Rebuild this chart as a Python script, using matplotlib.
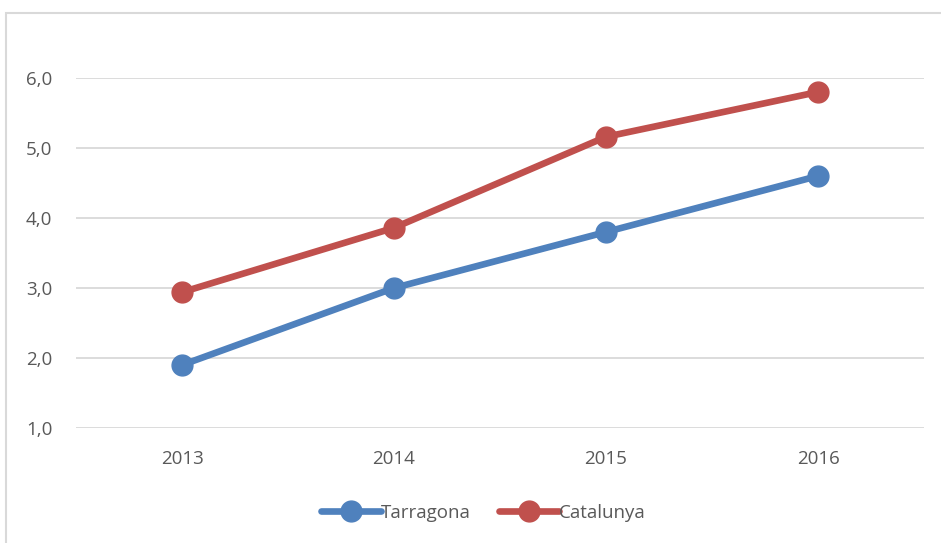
import matplotlib.pyplot as plt
from matplotlib.patches import Rectangle
from matplotlib.ticker import FuncFormatter

years = ['2013', '2014', '2015', '2016']
tarragona = [1.9, 3.0, 3.8, 4.6]
catalunya = [2.94, 3.86, 5.16, 5.8]
y_ticks = [1, 2, 3, 4, 5, 6]

plt.rcParams['font.family'] = ['Open Sans', 'DejaVu Sans']

fig = plt.figure(figsize=(9.41, 5.43), dpi=100)
ax = fig.add_axes([76/941, 1 - 428/543, 848/941, 350/543])

# chart frame (runs off the right and bottom edges)
fig.patches.append(Rectangle((6/941, -0.05), 1.0, 1 - 13/543 + 0.05,
                             transform=fig.transFigure, fill=False,
                             edgecolor='#D9D9D9', linewidth=1.5))

x = range(len(years))
ax.plot(x, tarragona, color='#4F81BD', lw=4.8, marker='o', ms=15,
        solid_capstyle='round', label='Tarragona')
ax.plot(x, catalunya, color='#C0504D', lw=4.8, marker='o', ms=15,
        solid_capstyle='round', label='Catalunya')

ax.set_xlim(-0.5, 3.5)
ax.set_ylim(1, 6)
ax.set_xticks(list(x))
ax.set_xticklabels(years)
ax.set_yticks(y_ticks)
ax.yaxis.set_major_formatter(FuncFormatter(lambda v, p: f'{v:.1f}'.replace('.', ',')))
ax.grid(axis='y', color='#D9D9D9', lw=1.3)
ax.set_axisbelow(True)
for s in ax.spines.values():
    s.set_visible(False)
ax.tick_params(length=0, labelsize=13.5, colors='#595959')
ax.tick_params(axis='x', pad=16)
ax.tick_params(axis='y', pad=17)

leg = ax.legend(loc='center', bbox_to_anchor=(483/941, 1 - 513/543),
                bbox_transform=fig.transFigure, ncol=2, frameon=False,
                fontsize=13.5, handlelength=3.2, handletextpad=0.0,
                columnspacing=1.5)
for t in leg.get_texts():
    t.set_color('#595959')

fig.savefig('out.png', dpi=100)
